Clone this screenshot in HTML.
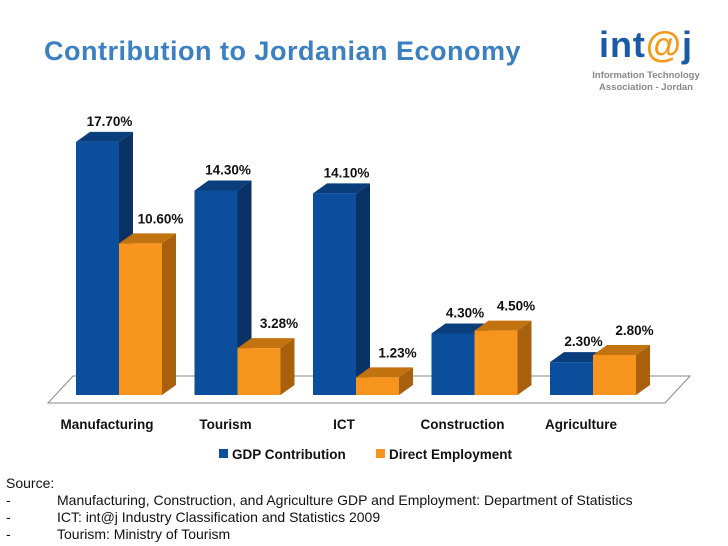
<!DOCTYPE html>
<html><head><meta charset="utf-8"><style>
body{margin:0;width:728px;height:546px;background:#fff;overflow:hidden;position:relative;font-family:"Liberation Sans",sans-serif}
.title{position:absolute;left:44px;top:36px;font-size:27px;font-weight:bold;color:#3b80c2;letter-spacing:0.5px}
.src{position:absolute;left:6px;font-size:14px;color:#111;letter-spacing:0px;white-space:nowrap}
.src span{position:absolute;left:51px;top:0}
</style></head><body>
<div class="title">Contribution to Jordanian Economy</div>
<div style="position:absolute;left:584px;top:26px;width:124px;text-align:center">
<div style="font-size:36px;font-weight:bold;color:#1b5aa6;line-height:38px;letter-spacing:1px">int<span style="color:#f39a1f">@</span>j</div>
<div style="font-size:9.5px;font-weight:bold;color:#888;line-height:12px;margin-top:6px">Information Technology<br>Association - Jordan</div></div>
<svg id="chart" width="728" height="470" style="position:absolute;left:0;top:0"></svg>
<div class="src" style="top:475px">Source:</div>
<div class="src" style="top:492px">-<span>Manufacturing, Construction, and Agriculture GDP and Employment: Department of Statistics</span></div>
<div class="src" style="top:509px">-<span>ICT: int@j Industry Classification and Statistics 2009</span></div>
<div class="src" style="top:526px">-<span>Tourism: Ministry of Tourism</span></div>
<script>
const categories=["Manufacturing","Tourism","ICT","Construction","Agriculture"];
const gdpValues=[17.7,14.3,14.1,4.3,2.3];
const employmentValues=[10.6,3.28,1.23,4.5,2.8];
const gdpLabels=["17.70%","14.30%","14.10%","4.30%","2.30%"];
const empLabels=["10.60%","3.28%","1.23%","4.50%","2.80%"];
const NS="http://www.w3.org/2000/svg";
const svg=document.getElementById('chart');
const base=395,scale=14.3,x0=76,step=118.5,bw=43,dx=14,dy=10;
function y(v){return base-v*scale;}
function mk(t,a){const e=document.createElementNS(NS,t);for(const k in a)e.setAttribute(k,a[k]);svg.appendChild(e);return e;}
const fl=mk('polygon',{points:"48,403 665,403 690,376 73,376",fill:"none",stroke:"#888","stroke-width":"1"});


function bar(x,v,cf,cs,ct,name){
 const t=y(v);
 const g=document.createElementNS(NS,'g');svg.appendChild(g);
 
 
 const p=(pts,f)=>{const e=document.createElementNS(NS,'polygon');e.setAttribute('points',pts);e.setAttribute('fill',f);g.appendChild(e);};
 p(`${x+bw},${t} ${x+bw+dx},${t-dy} ${x+bw+dx},${base-dy} ${x+bw},${base}`,cs);
 p(`${x},${t} ${x+dx},${t-dy} ${x+bw+dx},${t-dy} ${x+bw},${t}`,ct);
 p(`${x},${t} ${x+bw},${t} ${x+bw},${base} ${x},${base}`,cf);
}
function txt(x,yy,s,name,size){const e=mk('text',{x:x,y:yy,'text-anchor':'middle','font-size':size||13.5,'font-weight':'bold',fill:'#111'});e.textContent=s;
 
 }
categories.forEach((c,i)=>{
 const x=x0+i*step;
 bar(x,gdpValues[i],"#0b4f9c","#0a3266","#093d7c",'bar-gdp-'+i);
 bar(x+bw,employmentValues[i],"#f7941d","#a8600c","#c2720f",'bar-emp-'+i);
 txt(x+bw/2+12,y(gdpValues[i])-16,gdpLabels[i],'label-gdp-'+i);
 txt(x+bw*1.5+20,y(employmentValues[i])-20,empLabels[i],'label-emp-'+i);
 const cl=mk('text',{x:x+31,y:429,'text-anchor':'middle','font-size':13.5,'font-weight':'bold',fill:'#111'});cl.textContent=c;
 
 
});
const l1=mk('rect',{x:219,y:449,width:9,height:9,fill:'#0b4f9c'});


const t1=mk('text',{x:232,y:459,'font-size':13.5,'font-weight':'bold',fill:'#111'});t1.textContent="GDP Contribution";


const l2=mk('rect',{x:376,y:449,width:9,height:9,fill:'#f7941d'});


const t2=mk('text',{x:389,y:459,'font-size':13.5,'font-weight':'bold',fill:'#111'});t2.textContent="Direct Employment";


</script>
</body></html>
